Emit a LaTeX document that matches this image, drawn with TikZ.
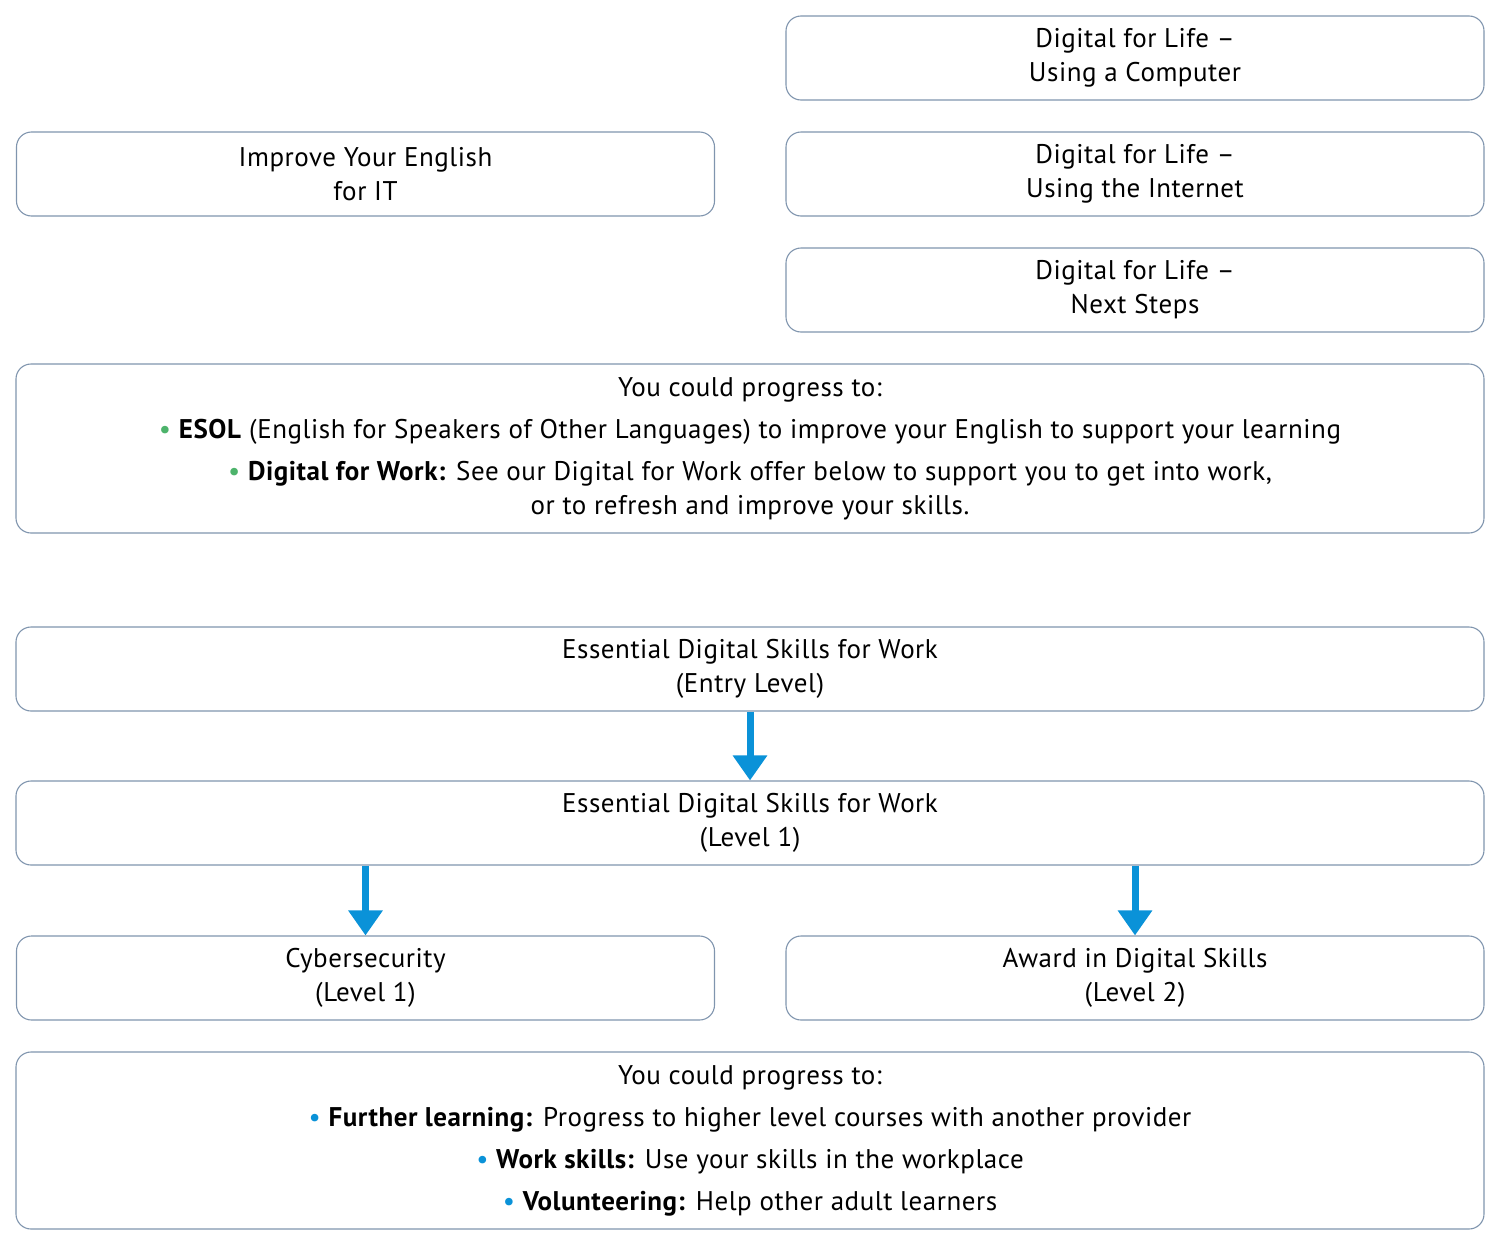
\documentclass[tikz,border=0pt]{standalone}
\usepackage{fontspec}
\setmainfont[LetterSpace=2]{PT Sans}
\usepackage{xcolor}
\usetikzlibrary{arrows.meta}

\definecolor{boxline}{HTML}{8095AE}
\definecolor{arrowblue}{HTML}{0A92D8}
\definecolor{dotgreen}{HTML}{4DB36B}
\newcommand{\gdot}{\textcolor{dotgreen}{\textbullet}~}
\newcommand{\bdot}{\textcolor{arrowblue}{\textbullet}~}

\tikzset{
  course/.style={draw=boxline,line width=1.1pt,rounded corners=15pt,
    align=center,inner sep=0pt,minimum height=84pt,
    font=\fontsize{27}{34}\selectfont},
  halfbox/.style={course,minimum width=698pt},
  fullbox/.style={course,minimum width=1468pt},
  flow/.style={arrowblue,line width=7pt,-{Triangle[width=33pt,length=25pt]},shorten >=0pt}
}

\begin{document}
\begin{tikzpicture}[x=1pt,y=-1pt]
\useasboundingbox (0,0) rectangle (1500,1245);

\node[halfbox] (dflcomp) at (1135,58) {Digital for Life --\\Using a Computer};
\node[halfbox] (dflnet) at (1135,174) {Digital for Life --\\Using the Internet};
\node[halfbox] (dflnext) at (1135,290) {Digital for Life --\\Next Steps};
\node[halfbox] (english) at (365.5,174) {Improve Your English\\for IT};

\node[fullbox,minimum height=169pt] (progone) at (750,448.5)
  {You could progress to:\\[8pt]
   \gdot\textbf{ESOL} (English for Speakers of Other Languages) to improve your English to support your learning\\[8pt]
   \gdot\textbf{Digital for Work:} See our Digital for Work offer below to support you to get into work,\\
   or to refresh and improve your skills.};

\node[fullbox] (edsentry) at (750,669) {Essential Digital Skills for Work\\(Entry Level)};
\node[fullbox] (edsone) at (750,823) {Essential Digital Skills for Work\\(Level 1)};
\node[halfbox] (cyber) at (365.5,978) {Cybersecurity\\(Level 1)};
\node[halfbox] (award) at (1135,978) {Award in Digital Skills\\(Level 2)};

\node[fullbox,minimum height=177pt] (progtwo) at (750,1140.5)
  {You could progress to:\\[8pt]
   \bdot\textbf{Further learning:} Progress to higher level courses with another provider\\[8pt]
   \bdot\textbf{Work skills:} Use your skills in the workplace\\[8pt]
   \bdot\textbf{Volunteering:} Help other adult learners};

\draw[flow] (edsentry.south) -- (edsone.north);
\draw[flow] (edsone.south -| cyber.north) -- (cyber.north);
\draw[flow] (edsone.south -| award.north) -- (award.north);

\end{tikzpicture}
\end{document}
